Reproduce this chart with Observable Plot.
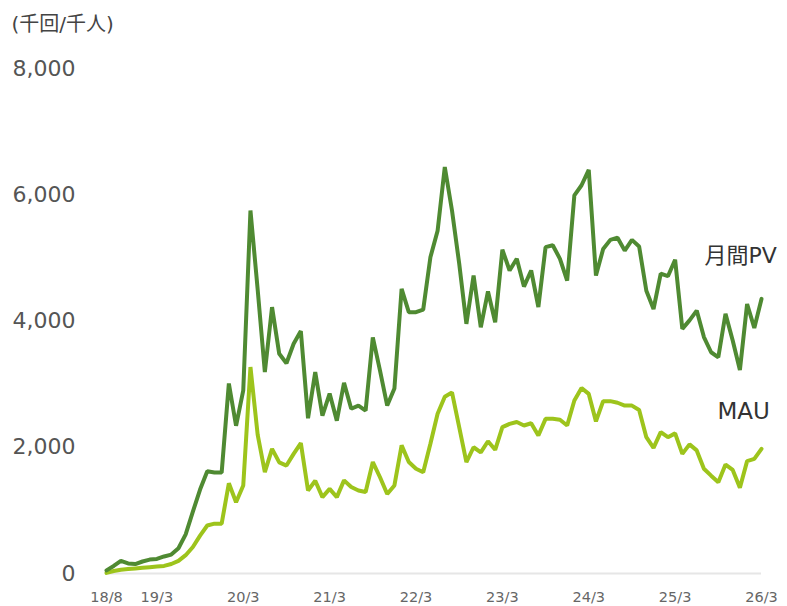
<!DOCTYPE html>
<html>
<head>
<meta charset="utf-8">
<script src="https://cdn.jsdelivr.net/npm/d3@7"></script>
<script src="https://cdn.jsdelivr.net/npm/@observablehq/plot@0.6"></script>
<style>
  html, body { margin: 0; padding: 0; background: #fff; }
</style>
</head>
<body>
<div id="chart"></div>
<script>
// Monthly series from 18/8 to 26/3 (92 months), unit: 千回 / 千人
const pvValues = [
  50, 120, 200, 160, 150, 190, 220, 230, 270, 300,
  400, 620, 980, 1330, 1620, 1600, 1600, 3010, 2340, 2900,
  5750, 4500, 3190, 4220, 3480, 3330, 3640, 3840, 2460, 3190,
  2500, 2850, 2420, 3020, 2610, 2660, 2580, 3740, 3215, 2660,
  2930, 4510, 4140, 4140, 4180, 5010, 5430, 6440, 5750, 4910,
  3955, 4720, 3900, 4470, 3980, 5130, 4800, 4985, 4545, 4800,
  4220, 5170, 5200, 4985, 4640, 5990, 6150, 6395, 4720, 5140,
  5285, 5320, 5115, 5285, 5180, 4480, 4190, 4750, 4710, 4970,
  3875, 4010, 4165, 3745, 3505, 3425, 4115, 3690, 3225, 4270,
  3890, 4350
];
const mauValues = [
  10, 40, 60, 70, 80, 90, 100, 110, 120, 150,
  200, 290, 420, 600, 760, 790, 790, 1430, 1130, 1395,
  3270, 2200, 1605, 1975, 1760, 1710, 1895, 2065, 1315, 1470,
  1210, 1340, 1210, 1475, 1370, 1315, 1290, 1765, 1525, 1260,
  1395, 2030, 1765, 1660, 1605, 2055, 2530, 2800, 2870, 2320,
  1765, 2000, 1920, 2095, 1960, 2320, 2370, 2400, 2345, 2380,
  2185, 2450, 2450, 2435, 2345, 2740, 2940, 2845, 2410, 2730,
  2730, 2705, 2660, 2660, 2590, 2160, 1990, 2240, 2160, 2220,
  1895, 2045, 1950, 1660, 1550, 1445, 1725, 1640, 1360, 1780,
  1815, 1975
];
const seriesNames = ["月間PV", "MAU"];
const xTickLabels = ["18/8", "19/3", "20/3", "21/3", "22/3", "23/3", "24/3", "25/3", "26/3"];
const yTicks = [0, 2000, 4000, 6000, 8000];
const unitLabel = "(千回/千人)";

// month index relative to the first month (18/8)
const monthIndex = (lab) => {
  const [yy, mm] = lab.split("/").map(Number);
  return (yy - 18) * 12 + (mm - 8);
};
const xTickPos = xTickLabels.map(monthIndex);
const labelAt = new Map(xTickLabels.map((l) => [monthIndex(l), l]));

const pv = pvValues.map((v, i) => ({ i, v, series: seriesNames[0] }));
const mau = mauValues.map((v, i) => ({ i, v, series: seriesNames[1] }));

const pvColor = "#4f8a32";
const mauColor = "#9dc41c";
const fontFamily = "'DejaVu Sans', 'Noto Sans CJK JP', sans-serif";

const chart = Plot.plot({
  width: 787,
  height: 606,
  marginLeft: 106,
  marginRight: 26,
  marginTop: 68,
  marginBottom: 33,
  style: { fontFamily, background: "#fff", overflow: "visible" },
  x: { type: "linear", domain: [0, pvValues.length - 1], label: null },
  y: { domain: [0, 8000], label: null },
  marks: [
    Plot.ruleY([0], { stroke: "#e6e6e6", strokeWidth: 2 }),
    Plot.axisY({
      ticks: yTicks, tickSize: 0, tickPadding: 31, fontSize: 22,
      color: "#555", label: null, tickFormat: d3.format(",")
    }),
    Plot.axisX({
      ticks: xTickPos, tickSize: 0, tickPadding: 18, fontSize: 14.5,
      color: "#666", label: null, tickFormat: (d) => labelAt.get(d)
    }),
    Plot.lineY(mau, { x: "i", y: "v", stroke: mauColor, strokeWidth: 4, strokeLinejoin: "miter" }),
    Plot.lineY(pv, { x: "i", y: "v", stroke: pvColor, strokeWidth: 4, strokeLinejoin: "miter" }),
    Plot.text(pv, Plot.selectLast({
      x: "i", y: "v", text: "series", textAnchor: "start",
      dx: -57, dy: -43, fontSize: 22, fill: "#333"
    })),
    Plot.text(mau, Plot.selectLast({
      x: "i", y: "v", text: "series", textAnchor: "start",
      dx: -44, dy: -37, fontSize: 23, fill: "#333"
    })),
    Plot.text([unitLabel], {
      frameAnchor: "top-left", text: (d) => d, textAnchor: "start",
      lineAnchor: "middle", dx: -95, dy: -44, fontSize: 20, fill: "#444"
    })
  ]
});
document.getElementById("chart").appendChild(chart);
</script>
</body>
</html>
